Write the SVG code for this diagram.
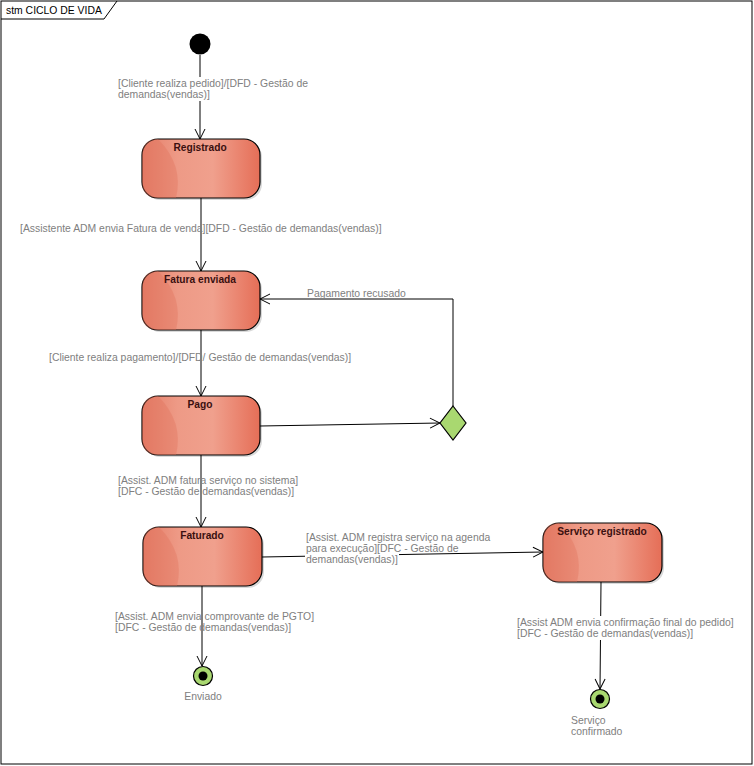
<svg xmlns="http://www.w3.org/2000/svg" width="754" height="766" viewBox="0 0 754 766">
<style>
.frame{fill:#fff;stroke:#000;stroke-width:1}
.st{stroke:#000;stroke-width:1.2;fill:url(#g)}
.sh{fill:#000;opacity:0.15}
.gloss{fill:#e0705a;opacity:0.35}
.nt{font-family:"Liberation Sans",Arial,sans-serif;font-size:10.2px;font-weight:bold;fill:#3a1010;text-anchor:middle}
.lb{font-family:"Liberation Sans",Arial,sans-serif;font-size:10.4px;fill:#808080}
.bg{fill:#fff}
.cn{stroke:#000;stroke-width:1;fill:none;marker-end:url(#a)}
.fin{fill:#a9d870;stroke:#000;stroke-width:1.2}
</style>
<defs>
<linearGradient id="g" x1="0" y1="0" x2="1" y2="0">
<stop offset="0" stop-color="#e57d68"/>
<stop offset="0.3" stop-color="#ee9a86"/>
<stop offset="0.6" stop-color="#f0a08d"/>
<stop offset="1" stop-color="#e56e57"/>
</linearGradient>
<marker id="a" markerWidth="12" markerHeight="12" refX="11" refY="6" orient="auto" markerUnits="userSpaceOnUse">
<path d="M1,1 L11,6 L1,11" fill="none" stroke="#000" stroke-width="1"/>
</marker>
</defs>
<rect class="frame" x="1" y="1" width="751" height="763"/>
<path d="M1,19 L104,19 L117,1" fill="none" stroke="#000" stroke-width="1"/>
<text x="6" y="14" font-family="'Liberation Sans',Arial,sans-serif" font-size="10.4px" fill="#000">stm CICLO DE VIDA</text>

<g id="connectors">
<line class="cn" x1="200" y1="55" x2="200" y2="139"/>
<line class="cn" x1="201" y1="198" x2="201" y2="271"/>
<line class="cn" x1="201" y1="330" x2="201" y2="396"/>
<line class="cn" x1="201" y1="455" x2="201" y2="527"/>
<line class="cn" x1="260" y1="426" x2="440" y2="423"/>
<polyline class="cn" points="453,406 453,299 260,299"/>
<line class="cn" x1="262" y1="557" x2="543" y2="552"/>
<line class="cn" x1="202" y1="586" x2="202" y2="666"/>
<line class="cn" x1="601" y1="582" x2="600" y2="689"/>
</g>

<g id="labels">
<rect class="bg" x="117" y="77" width="192" height="24"/>
<text class="lb" x="118" y="87">[Cliente realiza pedido]/[DFD - Gestão de</text>
<text class="lb" x="118" y="98">demandas(vendas)]</text>
<text class="lb" x="20" y="232">[Assistente ADM envia Fatura de venda][DFD - Gestão de demandas(vendas)]</text>
<text class="lb" x="307" y="297">Pagamento recusado</text>
<text class="lb" x="49" y="361">[Cliente realiza pagamento]/[DFD/ Gestão de demandas(vendas)]</text>
<text class="lb" x="118" y="484">[Assist. ADM fatura serviço no sistema]</text>
<text class="lb" x="118" y="495">[DFC - Gestão de demandas(vendas)]</text>
<rect class="bg" x="305" y="545" width="94" height="21"/>
<text class="lb" x="306" y="541">[Assist. ADM registra serviço na agenda</text>
<text class="lb" x="306" y="552">para execução][DFC - Gestão de</text>
<text class="lb" x="306" y="563">demandas(vendas)]</text>
<text class="lb" x="115" y="620">[Assist. ADM envia comprovante de PGTO]</text>
<text class="lb" x="115" y="631">[DFC - Gestão de demandas(vendas)]</text>
<rect class="bg" x="516" y="616" width="219" height="24"/>
<text class="lb" x="517" y="626">[Assist ADM envia confirmação final do pedido]</text>
<text class="lb" x="517" y="637">[DFC - Gestão de demandas(vendas)]</text>
</g>

<g id="initial">
<circle cx="200" cy="44" r="10.5" fill="#000"/>
</g>

<g id="registrado">
<rect class="sh" x="144" y="141" width="118" height="59" rx="16"/>
<rect class="st" x="142" y="139" width="118" height="59" rx="16"/>
<path class="gloss" d="M158,139 Q184,165 176,198 L158,198 Q142,198 142,182 L142,155 Q142,139 158,139 Z"/>
<text class="nt" x="200" y="151">Registrado</text>
</g>

<g id="fatura_enviada">
<rect class="sh" x="144" y="273" width="118" height="59" rx="16"/>
<rect class="st" x="142" y="271" width="118" height="59" rx="16"/>
<path class="gloss" d="M158,271 Q184,297 176,330 L158,330 Q142,330 142,314 L142,287 Q142,271 158,271 Z"/>
<text class="nt" x="200" y="283">Fatura enviada</text>
</g>

<g id="pago">
<rect class="sh" x="144" y="398" width="118" height="59" rx="16"/>
<rect class="st" x="142" y="396" width="118" height="59" rx="16"/>
<path class="gloss" d="M158,396 Q184,422 176,455 L158,455 Q142,455 142,439 L142,412 Q142,396 158,396 Z"/>
<text class="nt" x="200" y="408">Pago</text>
</g>

<g id="faturado">
<rect class="sh" x="145" y="529" width="119" height="59" rx="16"/>
<rect class="st" x="143" y="527" width="119" height="59" rx="16"/>
<path class="gloss" d="M159,527 Q185,553 177,586 L159,586 Q143,586 143,570 L143,543 Q143,527 159,527 Z"/>
<text class="nt" x="202" y="539">Faturado</text>
</g>

<g id="servico_registrado">
<rect class="sh" x="545" y="525" width="119" height="59" rx="16"/>
<rect class="st" x="543" y="523" width="119" height="59" rx="16"/>
<path class="gloss" d="M559,523 Q585,549 577,582 L559,582 Q543,582 543,566 L543,539 Q543,523 559,523 Z"/>
<text class="nt" x="602" y="535">Serviço registrado</text>
</g>

<g id="decisao">
<polygon points="453,406 466,423 453,440 440,423" fill="#a9d870" stroke="#000" stroke-width="1.2"/>
</g>

<g id="enviado">
<circle class="fin" cx="203" cy="676" r="9.5"/>
<circle cx="203" cy="676" r="4.5" fill="#000"/>
<text class="lb" x="203" y="700" text-anchor="middle">Enviado</text>
</g>

<g id="servico_confirmado">
<circle class="fin" cx="600" cy="699" r="9.5"/>
<circle cx="600" cy="699" r="4.5" fill="#000"/>
<text class="lb" x="571" y="724">Serviço</text>
<text class="lb" x="571" y="735">confirmado</text>
</g>
</svg>
